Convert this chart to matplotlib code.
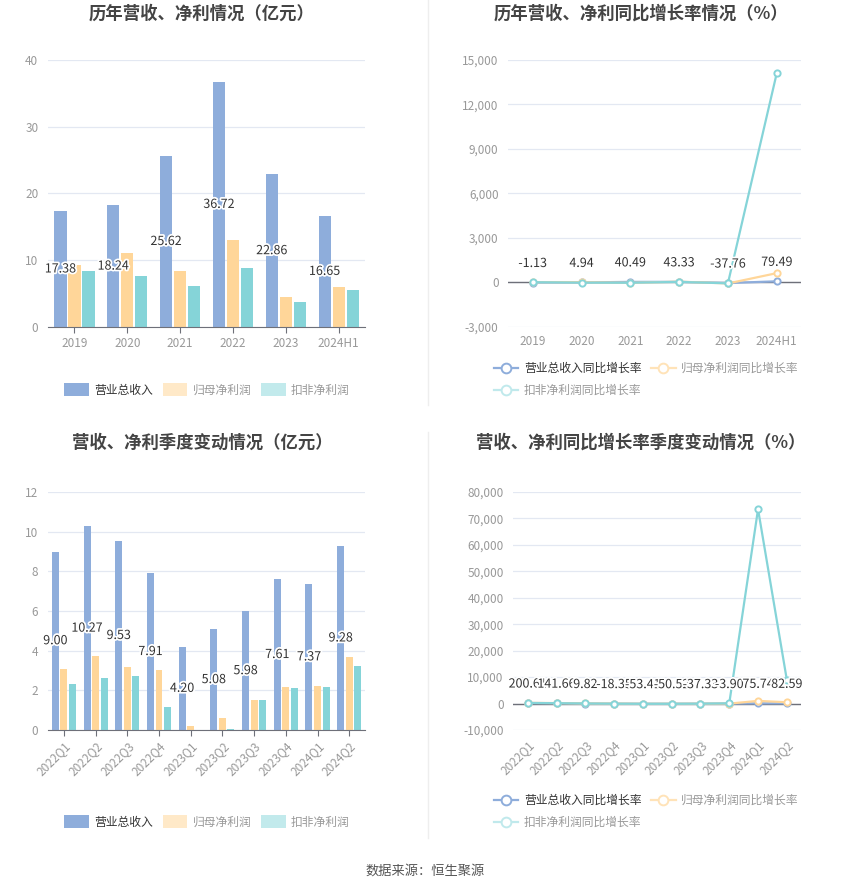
import matplotlib
matplotlib.use("Agg")
import matplotlib.pyplot as plt
import matplotlib.patheffects as pe
from matplotlib.lines import Line2D
from matplotlib.patches import Patch
from matplotlib.ticker import FuncFormatter
import numpy as np

plt.rcParams['font.family'] = ['Noto Sans CJK SC', 'DejaVu Sans']
plt.rcParams['axes.unicode_minus'] = False

# 年度数据（亿元）
years = ['2019', '2020', '2021', '2022', '2023', '2024H1']
rev = [17.38, 18.24, 25.62, 36.72, 22.86, 16.65]
net = [9.35, 11.1, 8.35, 13.05, 4.55, 5.95]
ded = [8.4, 7.65, 6.2, 8.85, 3.75, 5.5]

# 年度同比（%）
rev_g = [-1.13, 4.94, 40.49, 43.33, -37.76, 79.49]
net_g = [25.0, 18.7, -24.8, 56.3, -65.1, 630.0]
ded_g = [20.0, -9.0, -19.0, 42.0, -58.0, 14100.0]

# 季度数据（亿元）
quarters = ['2022Q1', '2022Q2', '2022Q3', '2022Q4', '2023Q1', '2023Q2',
            '2023Q3', '2023Q4', '2024Q1', '2024Q2']
q_rev = [9.00, 10.27, 9.53, 7.91, 4.20, 5.08, 5.98, 7.61, 7.37, 9.28]
q_net = [3.06, 3.75, 3.18, 3.0, 0.2, 0.62, 1.53, 2.17, 2.22, 3.69]
q_ded = [2.3, 2.6, 2.73, 1.16, 0.003, 0.05, 1.53, 2.14, 2.19, 3.25]

# 季度同比（%）
q_rev_g = [200.61, 141.66, 9.82, -18.35, -53.41, -50.52, -37.33, -3.90, 75.74, 82.59]
q_net_g = [260.0, 180.0, 30.0, -20.0, -93.5, -83.5, -51.9, -27.7, 1010.0, 495.0]
q_ded_g = [210.0, 150.0, 25.0, -55.0, -99.9, -98.1, -44.0, 84.5, 73500.0, 9000.0]

BLUE = '#8eaddb'
ORANGE = '#ffd699'
TEAL = '#85d4d8'
GRID = '#e3e8f2'
AXIS = '#6e7079'
TICK = '#999999'
outline = [pe.withStroke(linewidth=2.5, foreground='white')]

fig = plt.figure(figsize=(8.5, 8.91), dpi=100)


def style_axes(ax, yticks, fmt=None):
    for s in ['top', 'right', 'left']:
        ax.spines[s].set_visible(False)
    ax.set_yticks(yticks)
    ax.set_ylim(yticks[0], yticks[-1])
    ax.grid(axis='y', color=GRID, linewidth=0.9)
    ax.set_axisbelow(True)
    ax.tick_params(axis='y', length=0, pad=7, labelsize=8.5, labelcolor=TICK)
    if fmt:
        ax.yaxis.set_major_formatter(FuncFormatter(fmt))


def bar_panel(ax, cats, a, b, c, yticks, width, step, rotate=False):
    x = np.arange(len(cats))
    ax.bar(x - step, a, width, color=BLUE, zorder=2)
    ax.bar(x, b, width, color=ORANGE, zorder=2)
    ax.bar(x + step, c, width, color=TEAL, zorder=2)
    for xi, v in zip(x, a):
        ax.text(xi - step, v / 2, f'{v:.2f}', ha='center', va='center', fontsize=9,
                color='#333333', path_effects=outline, zorder=3)
    style_axes(ax, yticks)
    ax.spines['bottom'].set_color(AXIS)
    ax.set_xlim(-0.5, len(cats) - 0.5)
    ax.set_xticks(x)
    if rotate:
        ax.set_xticklabels(cats, rotation=45, ha='right', rotation_mode='anchor')
    else:
        ax.set_xticklabels(cats)
    ax.tick_params(axis='x', length=4, color=AXIS, labelsize=8.5, labelcolor=TICK, pad=3)


def line_panel(ax, cats, a, b, c, yticks, rotate=False):
    x = np.arange(len(cats))
    for ys, col in [(a, BLUE), (b, ORANGE), (c, TEAL)]:
        ax.plot(x, ys, color=col, linewidth=1.6, marker='o', markersize=4.5,
                markerfacecolor='white', markeredgewidth=1.4, zorder=3)
    style_axes(ax, yticks, lambda v, p: f'{v:,.0f}')
    ax.spines['bottom'].set_visible(False)
    ax.axhline(0, color=AXIS, linewidth=1, zorder=1)
    ax.set_xlim(-0.5, len(cats) - 0.5)
    ax.set_xticks(x)
    if rotate:
        ax.set_xticklabels(cats, rotation=45, ha='right', rotation_mode='anchor')
    else:
        ax.set_xticklabels(cats)
    ax.tick_params(axis='x', length=0, labelsize=8.5, labelcolor=TICK, pad=6)
    for xi, v in zip(x, a):
        ax.annotate(f'{v:.2f}', (xi, v), xytext=(0, 9), textcoords='offset points',
                    ha='center', va='bottom', fontsize=9, color='#333333',
                    path_effects=outline, zorder=4)


ax1 = fig.add_axes([0.0565, 0.633, 0.373, 0.2997])
bar_panel(ax1, years, rev, net, ded, [0, 10, 20, 30, 40], 0.23, 0.265)

ax2 = fig.add_axes([0.598, 0.633, 0.3445, 0.2997])
line_panel(ax2, years, rev_g, net_g, ded_g, [-3000, 0, 3000, 6000, 9000, 12000, 15000])

ax3 = fig.add_axes([0.0565, 0.1807, 0.373, 0.2671])
bar_panel(ax3, quarters, q_rev, q_net, q_ded, [0, 2, 4, 6, 8, 10, 12], 0.22, 0.27, rotate=True)

ax4 = fig.add_axes([0.604, 0.1807, 0.3386, 0.2671])
line_panel(ax4, quarters, q_rev_g, q_net_g, q_ded_g,
           [-10000, 0, 10000, 20000, 30000, 40000, 50000, 60000, 70000, 80000], rotate=True)

# 标题
title_kw = dict(ha='center', va='center', fontsize=12.5, fontweight='bold', color='#444444')
fig.text(202 / 850, 1 - 14 / 891, '历年营收、净利情况（亿元）', **title_kw)
fig.text(641 / 850, 1 - 14 / 891, '历年营收、净利同比增长率情况（%）', **title_kw)
fig.text(202 / 850, 1 - 443 / 891, '营收、净利季度变动情况（亿元）', **title_kw)
fig.text(641 / 850, 1 - 443 / 891, '营收、净利同比增长率季度变动情况（%）', **title_kw)

# 图例
bar_names = ['营业总收入', '归母净利润', '扣非净利润']
line_names = ['营业总收入同比增长率', '归母净利润同比增长率', '扣非净利润同比增长率']
bar_cols = [BLUE, '#ffe9c8', '#c2eaec']
line_cols = [BLUE, '#ffe3b8', '#c0e9ec']


def bar_legend(y):
    hs = [Patch(facecolor=c, edgecolor='none') for c in bar_cols]
    leg = fig.legend(hs, bar_names, loc='center', bbox_to_anchor=(207 / 850, y), ncol=3,
                     frameon=False, fontsize=8.5, handlelength=2.1, handleheight=1.2,
                     handletextpad=0.45, columnspacing=0.8)
    for t, c in zip(leg.get_texts(), ['#333333', TICK, TICK]):
        t.set_color(c)


def line_legend(y):
    hs = [Line2D([], [], color=c, linewidth=1.6, marker='o', markersize=7,
                 markerfacecolor='white', markeredgewidth=1.4) for c in line_cols]
    order = [0, 2, 1]
    leg = fig.legend([hs[i] for i in order], [line_names[i] for i in order], loc='center',
                     bbox_to_anchor=(646 / 850, y), ncol=2, frameon=False, fontsize=8.5,
                     handlelength=2.1, handletextpad=0.45, columnspacing=0.8,
                     labelspacing=0.75)
    for t, i in zip(leg.get_texts(), order):
        t.set_color('#333333' if i == 0 else TICK)


bar_legend(1 - 390 / 891)
bar_legend(1 - 822 / 891)
line_legend(1 - 379.5 / 891)
line_legend(1 - 811.5 / 891)

# 分隔线
fig.add_artist(Line2D([428 / 850, 428 / 850], [1, 1 - 405 / 891], color='#eeeeee', linewidth=1))
fig.add_artist(Line2D([428 / 850, 428 / 850], [1 - 432 / 891, 1 - 838 / 891],
                      color='#eeeeee', linewidth=1))

fig.text(425 / 850, 1 - 871 / 891, '数据来源：恒生聚源', ha='center', va='center',
         fontsize=9.5, color='#555555')

fig.savefig('out.png', dpi=100)
